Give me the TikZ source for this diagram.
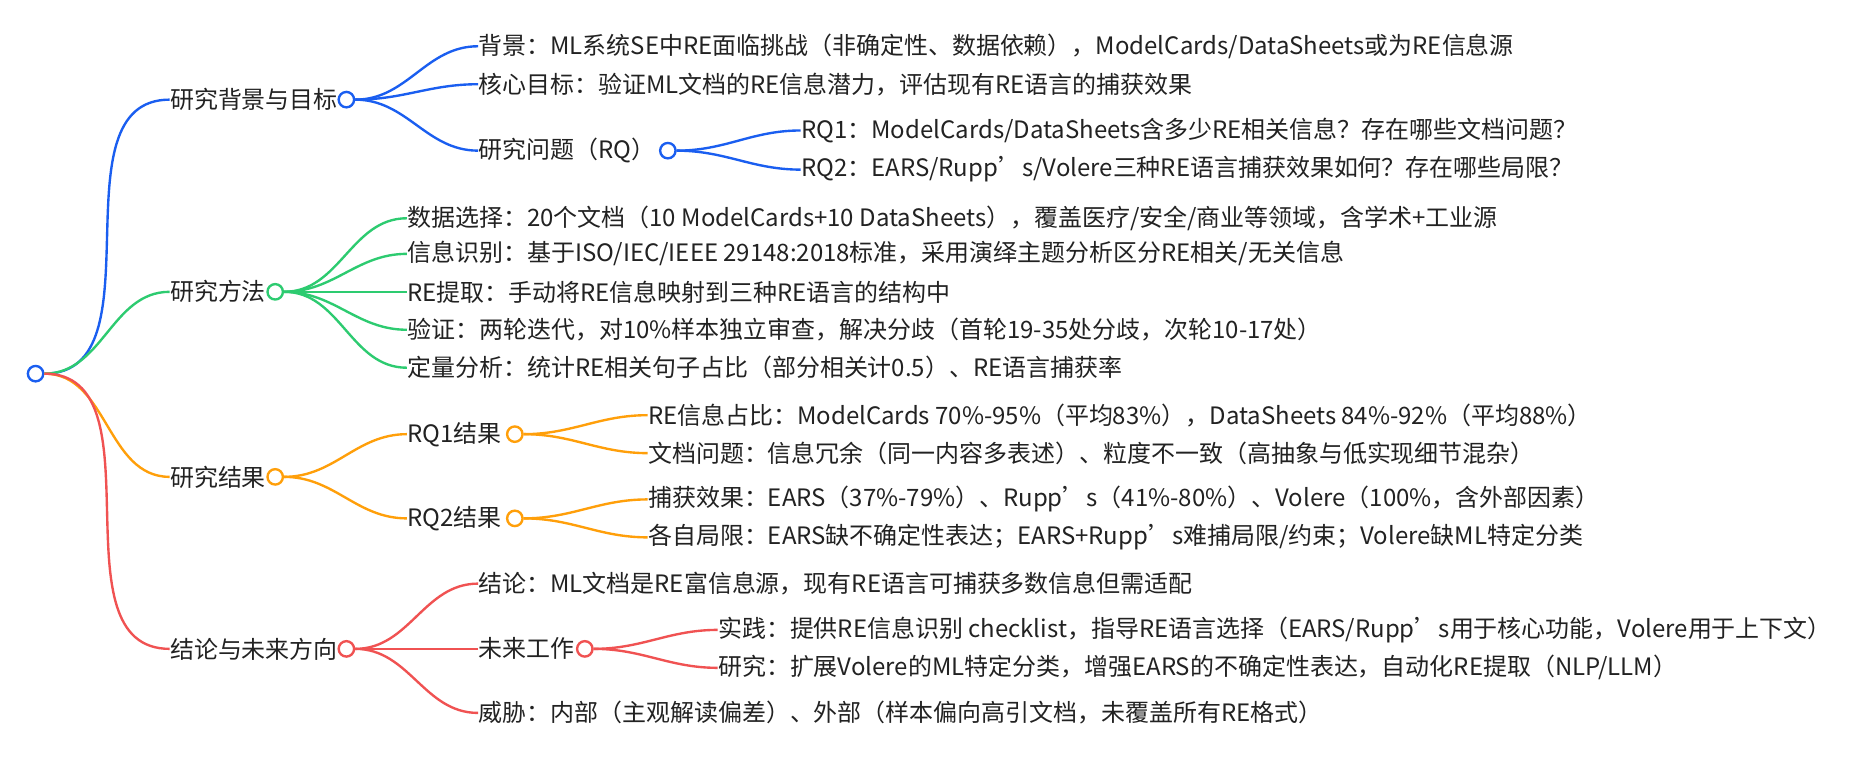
\documentclass[tikz,border=0pt]{standalone}
\usepackage{fontspec}
\setmainfont{Noto Sans CJK SC}
\definecolor{cblue}{HTML}{1A5EF0}
\definecolor{cgreen}{HTML}{2DCB70}
\definecolor{corange}{HTML}{FF9F0A}
\definecolor{cred}{HTML}{F05252}
\definecolor{ctext}{HTML}{222222}
\tikzset{
  item/.style={anchor=west,inner sep=0pt,text=ctext,font=\fontsize{10.1}{12}\selectfont},
  dot/.style={circle,draw=#1,fill=white,line width=1pt,inner sep=0pt,minimum size=6.5pt},
  br/.style={draw=#1,line width=1pt,out=0,in=180}
}
\begin{document}
\begin{tikzpicture}[x=0.5pt,y=-0.5pt]
	\useasboundingbox[fill=white] (0,0) rectangle (1568,647);
	\node (root) [dot=cblue] at (30,315) {};
	% background and goals
	\node (bg) [item] at (143,84) {研究背景与目标};
	\node (bgd) [dot=cblue] at (292,84) {};
	\node (bg1) [item] at (403,39) {背景：ML系统SE中RE面临挑战（非确定性、数据依赖），ModelCards/DataSheets或为RE信息源};
	\node (bg2) [item] at (403,71) {核心目标：验证ML文档的RE信息潜力，评估现有RE语言的捕获效果};
	\node (rq) [item] at (403,127) {研究问题（RQ）};
	\node (rqd) [dot=cblue] at (563,127) {};
	\node (rq1) [item] at (675,110) {RQ1：ModelCards/DataSheets含多少RE相关信息？存在哪些文档问题？};
	\node (rq2) [item] at (675,143) {RQ2：EARS/Rupp’s/Volere三种RE语言捕获效果如何？存在哪些局限？};
	\draw[br=cblue] (root) to (bg.west);
	\draw[br=cblue] (bgd) to (bg1.west);
	\draw[br=cblue] (bgd) to (bg2.west);
	\draw[br=cblue] (bgd) to (rq.west);
	\draw[br=cblue] (rqd) to (rq1.west);
	\draw[br=cblue] (rqd) to (rq2.west);
	% methods
	\node (me) [item] at (143,246) {研究方法};
	\node (med) [dot=cgreen] at (232,246) {};
	\node (me1) [item] at (343,184) {数据选择：20个文档（10 ModelCards+10 DataSheets），覆盖医疗/安全/商业等领域，含学术+工业源};
	\node (me2) [item] at (343,214) {信息识别：基于ISO/IEC/IEEE 29148:2018标准，采用演绎主题分析区分RE相关/无关信息};
	\node (me3) [item] at (343,246) {RE提取：手动将RE信息映射到三种RE语言的结构中};
	\node (me4) [item] at (343,278) {验证：两轮迭代，对10\%样本独立审查，解决分歧（首轮19-35处分歧，次轮10-17处）};
	\node (me5) [item] at (343,310) {定量分析：统计RE相关句子占比（部分相关计0.5）、RE语言捕获率};
	\draw[br=cgreen] (root) to (me.west);
	\foreach \i in {1,...,5} \draw[br=cgreen] (med) to (me\i.west);
	% results
	\node (re) [item] at (143,402) {研究结果};
	\node (red) [dot=corange] at (232,402) {};
	\node (ra) [item] at (343,366) {RQ1结果};
	\node (rad) [dot=corange] at (434,366) {};
	\node (ra1) [item] at (546,350) {RE信息占比：ModelCards 70\%-95\%（平均83\%），DataSheets 84\%-92\%（平均88\%）};
	\node (ra2) [item] at (546,382) {文档问题：信息冗余（同一内容多表述）、粒度不一致（高抽象与低实现细节混杂）};
	\node (rb) [item] at (343,437) {RQ2结果};
	\node (rbd) [dot=corange] at (434,437) {};
	\node (rb1) [item] at (546,421) {捕获效果：EARS（37\%-79\%）、Rupp’s（41\%-80\%）、Volere（100\%，含外部因素）};
	\node (rb2) [item] at (546,453) {各自局限：EARS缺不确定性表达；EARS+Rupp’s难捕局限/约束；Volere缺ML特定分类};
	\draw[br=corange] (root) to (re.west);
	\draw[br=corange] (red) to (ra.west);
	\draw[br=corange] (red) to (rb.west);
	\draw[br=corange] (rad) to (ra1.west);
	\draw[br=corange] (rad) to (ra2.west);
	\draw[br=corange] (rbd) to (rb1.west);
	\draw[br=corange] (rbd) to (rb2.west);
	% conclusions
	\node (co) [item] at (143,547) {结论与未来方向};
	\node (cod) [dot=cred] at (292,547) {};
	\node (co1) [item] at (403,492) {结论：ML文档是RE富信息源，现有RE语言可捕获多数信息但需适配};
	\node (fw) [item] at (403,547) {未来工作};
	\node (fwd) [dot=cred] at (493,547) {};
	\node (fw1) [item] at (605,531) {实践：提供RE信息识别 checklist，指导RE语言选择（EARS/Rupp’s用于核心功能，Volere用于上下文）};
	\node (fw2) [item] at (605,563) {研究：扩展Volere的ML特定分类，增强EARS的不确定性表达，自动化RE提取（NLP/LLM）};
	\node (co3) [item] at (403,601) {威胁：内部（主观解读偏差）、外部（样本偏向高引文档，未覆盖所有RE格式）};
	\draw[br=cred] (root) to (co.west);
	\draw[br=cred] (cod) to (co1.west);
	\draw[br=cred] (cod) to (fw.west);
	\draw[br=cred] (cod) to (co3.west);
	\draw[br=cred] (fwd) to (fw1.west);
	\draw[br=cred] (fwd) to (fw2.west);
\end{tikzpicture}
\end{document}
